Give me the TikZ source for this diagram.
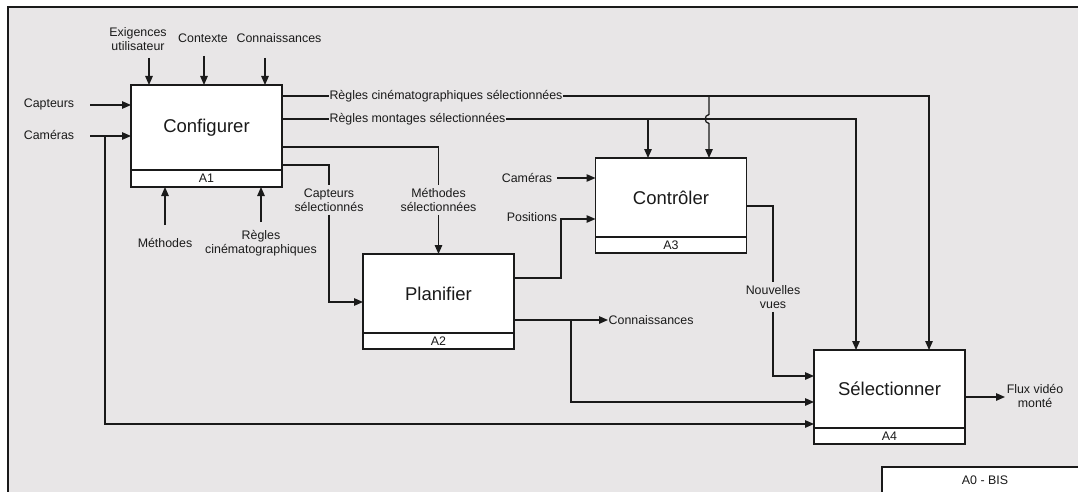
\documentclass[tikz,border=0pt]{standalone}
\usepackage{fontspec}
\setmainfont{Liberation Sans}
\usetikzlibrary{arrows.meta}
\definecolor{bg}{HTML}{E8E6E7}
\definecolor{ln}{HTML}{1A1A1A}
\begin{document}
\begin{tikzpicture}[x=1pt,y=-1pt,
  arr/.style={-{Triangle[length=9pt,width=7.5pt]}, line width=1.3pt, draw=ln},
  ln/.style={line width=1.3pt, draw=ln},
  lbl/.style={font=\fontsize{12.4}{14}\selectfont, align=center, inner sep=1pt, text=ln},
  mainbox/.style={draw=ln, fill=white, line width=1.3pt, minimum width=151pt, inner sep=0pt, outer sep=0pt, text=ln, font=\fontsize{18.5}{20}\selectfont},
  strip/.style={draw=ln, fill=white, line width=1.3pt, minimum width=151pt, minimum height=16pt, inner sep=0pt, outer sep=0pt, text=ln, font=\fontsize{12.4}{14}\selectfont}]
\useasboundingbox (0,0) rectangle (1078,492);
\fill[white] (0,0) rectangle (1078,492);
\fill[bg] (8,7) rectangle (1078,492);
\draw[ln, line width=1.5pt] (8,492) -- (8,7) -- (1078,7);

% boxes
\node[mainbox, minimum height=85pt] (A1) at (206.5,127.5) {Configurer};
\node[strip, minimum height=17pt] (A1s) at (206.5,178.5) {A1};
\node[mainbox, minimum height=79pt] (A2) at (438.5,293.5) {Planifier};
\node[strip] (A2s) at (438.5,341) {A2};
\node[mainbox, minimum height=79pt] (A3) at (671,197.5) {Contrôler};
\node[strip] (A3s) at (671,245) {A3};
\node[mainbox, minimum height=78pt] (A4) at (889.5,389) {Sélectionner};
\node[strip] (A4s) at (889.5,436) {A4};

% A1 inputs
\node[lbl] (exi) at (138,39) {Exigences\\utilisateur};
\coordinate (exi0) at (149,58);
\draw[arr] (exi0) -- (exi0 |- A1.north);
\node[lbl] (ctx) at (203,38) {Contexte};
\coordinate (ctx0) at (204,56);
\draw[arr] (ctx0) -- (ctx0 |- A1.north);
\node[lbl] (con1) at (279,38) {Connaissances};
\coordinate (con10) at (265,58);
\draw[arr] (con10) -- (con10 |- A1.north);

\node[lbl] (cap) at (49,104) {Capteurs};
\coordinate (cap0) at (90,105);
\draw[arr] (cap0) -- (cap0 -| A1.west);
\node[lbl] (cam) at (49,135) {Caméras};
\coordinate (cam0) at (90,136);
\draw[arr] (cam0) -- (cam0 -| A1.west);
\coordinate (camj) at (105,136);
\draw[arr] (camj) |- ([yshift=-35pt]A4.west);

\node[lbl] (meth) at (165,243) {Méthodes};
\coordinate (meth0) at (165,225);
\draw[arr] (meth0) -- (meth0 |- A1s.south);
\node[lbl] (regc) at (261,243) {Règles\\cinématographiques};
\coordinate (regc0) at (261,222);
\draw[arr] (regc0) -- (regc0 |- A1s.south);

% A1 outputs
\node[lbl, inner sep=0.5pt] (rcs) at (446,96) {Règles cinématographiques sélectionnées};
\draw[ln] (A1.east |- rcs) -- (rcs.west);
\draw[arr] (rcs.east) -| ([xshift=39.5pt]A4.north);
\node[lbl, inner sep=0.5pt] (rms) at (417.5,119) {Règles montages sélectionnées};
\draw[ln] (A1.east |- rms) -- (rms.west);
\draw[arr] (rms.east) -| ([xshift=-33.5pt]A4.north);
\coordinate (jc) at ([xshift=38pt]A3.north);
\coordinate (jm) at ([xshift=-23pt]A3.north);
\draw[arr] (jm |- rms) -- (jm);
\draw[arr] (jc |- rcs) -- ([yshift=4.5pt]jc |- rms) .. controls ([xshift=-5pt,yshift=4pt]jc |- rms) and ([xshift=-5pt,yshift=-4pt]jc |- rms) .. ([yshift=-4.5pt]jc |- rms) -- (jc);

\node[lbl, inner sep=3pt] (ms) at (438.5,200) {Méthodes\\sélectionnées};
\draw[ln] (A1.east |- 0,147) -| (ms.north);
\draw[arr] (ms.south) -- (A2.north);
\node[lbl, inner sep=3pt] (cs) at (329,200) {Capteurs\\sélectionnés};
\draw[ln] (A1.east |- 0,165) -| (cs.north);
\draw[arr] (cs.south) |- ([yshift=-8.5pt]A2.west);

% A2 outputs
\node[lbl] (pos) at (532,217) {Positions};
\coordinate (pc) at (561,278);
\draw[arr] (A2.east |- pc) -- (pc) |- (A3.west |- 0,219);
\node[lbl, anchor=west, inner sep=0.5pt] (con2) at (608,320) {Connaissances};
\draw[arr] (A2.east |- con2.west) -- (con2.west);
\coordinate (kc) at (571,320);
\draw[arr] (kc) |- ([yshift=-13pt]A4.west);

% A3 inputs / outputs
\node[lbl] (cam2) at (527,178) {Caméras};
\coordinate (cam20) at (557,178);
\draw[arr] (cam20) -- (cam20 -| A3.west);
\node[lbl, inner sep=3pt] (nv) at (773,297) {Nouvelles\\vues};
\draw[ln] (A3.east |- 0,206) -| (nv.north);
\draw[arr] (nv.south) |- ([yshift=13pt]A4.west);

% A4 output
\node[lbl] (flux) at (1035,396) {Flux vidéo\\monté};
\coordinate (flux0) at (1005,397);
\draw[arr] (A4.east |- flux0) -- (flux0);

% A0 - BIS
\fill[white] (882,467) rectangle (1078,492);
\draw[ln] (882,492) -- (882,467) -- (1078,467);
\node[lbl] (a0) at (985,480) {A0 - BIS};
\end{tikzpicture}
\end{document}
